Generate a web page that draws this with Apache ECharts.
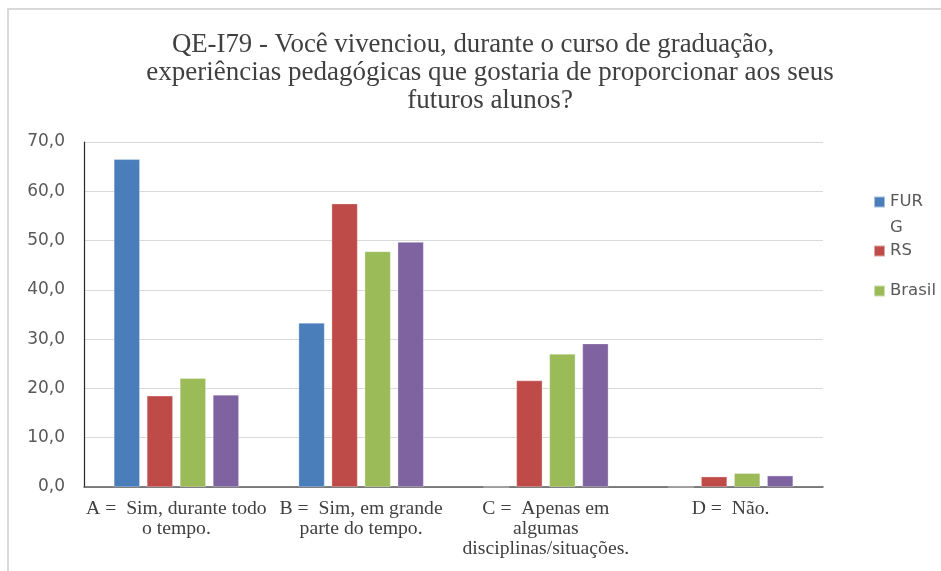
<!DOCTYPE html>
<html>
<head>
<meta charset="utf-8">
<script src="https://cdn.jsdelivr.net/npm/echarts@6/dist/echarts.min.js"></script>
<style>
  html, body { margin: 0; padding: 0; background: #fff; }
  #chart { width: 941px; height: 571px; }
</style>
</head>
<body>
<div id="chart"></div>
<script>
// Answer categories (x axis)
const categories = [
  'A =  Sim, durante todo\no tempo.',
  'B =  Sim, em grande\nparte do tempo.',
  'C =  Apenas em\nalgumas\ndisciplinas/situações.',
  'D =  Não.'
];

// Percentages per group
const furgValues = [66.5, 33.3, 0, 0];
const rsValues = [18.5, 57.5, 21.6, 2.1];
const brasilValues = [22.1, 47.8, 27.0, 2.8];
const regiaoValues = [18.7, 49.7, 29.1, 2.3];

const seriesNames = ['FURG', 'RS', 'Brasil', 'Região Sul'];
const seriesColors = ['#4A7EBB', '#BE4B48', '#9BBB59', '#7F63A1'];

// Y axis ticks
const yMin = 0, yMax = 70, yStep = 10;

// Title lines
const titleLines = [
  'QE-I79 - Você vivenciou, durante o curso de graduação,',
  'experiências pedagógicas que gostaria de proporcionar aos seus',
  'futuros alunos?'
];

const chart = echarts.init(document.getElementById('chart'));

const seriesData = [furgValues, rsValues, brasilValues, regiaoValues];

const titleFont = {
  fontFamily: 'Liberation Serif',
  fontSize: 27,
  fontWeight: 'normal',
  color: '#404040',
  lineHeight: 28
};

const legendText = {
  color: '#595959',
  fontFamily: 'DejaVu Sans',
  fontSize: 16.5,
  lineHeight: 26
};

const legendBase = {
  left: 873, padding: 0,
  itemWidth: 11, itemHeight: 11,
  icon: 'rect',
  textStyle: legendText
};

chart.setOption({
  animation: false,
  backgroundColor: '#ffffff',
  title: {
    text: '{first|' + titleLines[0] + '}\n{rest|' + titleLines[1] + '}\n{rest|' + titleLines[2] + '}',
    left: 485,
    top: 26,
    textAlign: 'center',
    textStyle: Object.assign({}, titleFont, {
      rich: {
        // first line keeps room for a trailing space, so it sits a little left
        first: Object.assign({}, titleFont, { fontSize: 26.8, padding: [0, 34, 0, 0] }),
        rest: Object.assign({}, titleFont)
      }
    })
  },
  legend: [
    // the long name wraps under its own first line
    Object.assign({}, legendBase, {
      data: [seriesNames[0]],
      top: 163,
      formatter: () => ' \nFUR\nG'
    }),
    Object.assign({}, legendBase, { data: [seriesNames[1]], top: 238 }),
    Object.assign({}, legendBase, { data: [seriesNames[2]], top: 278 })
  ],
  grid: {
    left: 84,
    right: 118,
    top: 142,
    bottom: 84,
    containLabel: false
  },
  xAxis: {
    type: 'category',
    data: categories,
    axisTick: { show: false },
    axisLine: { lineStyle: { color: '#595959', width: 1.5 } },
    axisLabel: {
      interval: 0,
      margin: 12,
      color: '#404040',
      fontFamily: 'Liberation Serif',
      fontSize: 19.7,
      lineHeight: 20
    }
  },
  yAxis: {
    type: 'value',
    min: yMin,
    max: yMax,
    interval: yStep,
    axisLine: { show: true, lineStyle: { color: '#262626', width: 1.2 } },
    axisTick: { show: false },
    splitLine: { lineStyle: { color: '#D9D9D9', width: 1.2 } },
    axisLabel: {
      margin: 19,
      color: '#595959',
      fontFamily: 'DejaVu Sans',
      fontSize: 17,
      formatter: v => v.toFixed(1).replace('.', ',')
    }
  },
  series: seriesData.map((vals, i) => ({
    name: seriesNames[i],
    type: 'bar',
    data: vals,
    barWidth: 26,
    barGap: '27%',
    itemStyle: {
      color: seriesColors[i],
      borderColor: 'rgba(255,255,255,0.5)',
      borderWidth: 0.6
    }
  })),
  graphic: [
    {
      type: 'polyline',
      shape: { points: [[8, 571], [8, 9], [941, 9]] },
      style: { stroke: '#D9D9D9', lineWidth: 2, fill: null },
      silent: true
    }
  ]
});
</script>
</body>
</html>
